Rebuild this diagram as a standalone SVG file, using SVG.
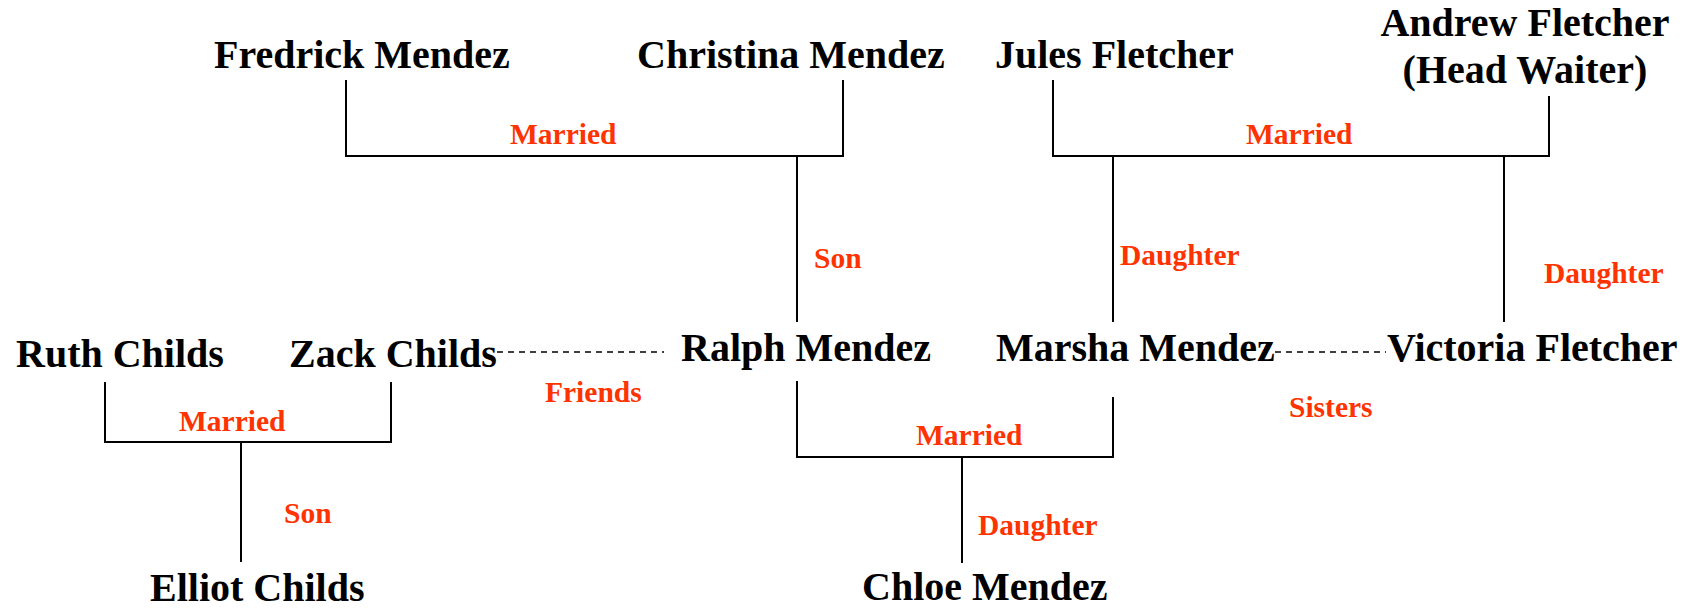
<svg xmlns="http://www.w3.org/2000/svg" width="1700" height="608" viewBox="0 0 1700 608">
<style>
.n{font-family:"Liberation Serif","Times New Roman",serif;font-weight:bold;font-size:40px;fill:#000}
.l{font-family:"Liberation Serif","Times New Roman",serif;font-weight:bold;font-size:29.5px;fill:#ff3300}
.c{fill:none;stroke:#000;stroke-width:2}
.d{fill:none;stroke:#000;stroke-width:1.5;stroke-dasharray:6 5}
</style>
<rect width="1700" height="608" fill="#fff"/>
<g id="connectors">
<polyline class="c" points="346,80 346,156 843,156 843,80"/>
<line class="c" x1="797" y1="156" x2="797" y2="322"/>
<polyline class="c" points="1053,80 1053,156 1549,156 1549,96"/>
<line class="c" x1="1113" y1="156" x2="1113" y2="322"/>
<line class="c" x1="1504" y1="156" x2="1504" y2="322"/>
<polyline class="c" points="105,382 105,442 391,442 391,382"/>
<line class="c" x1="241" y1="442" x2="241" y2="562"/>
<polyline class="c" points="797,381 797,457 1113,457 1113,397"/>
<line class="c" x1="962" y1="457" x2="962" y2="563"/>
<line class="d" x1="497" y1="352" x2="664" y2="352"/>
<line class="d" x1="1275" y1="352" x2="1386" y2="352"/>
<text class="l" x="510" y="144">Married</text>
<text class="l" x="1246" y="144">Married</text>
<text class="l" x="814" y="268">Son</text>
<text class="l" x="1120" y="265">Daughter</text>
<text class="l" x="1544" y="283">Daughter</text>
<text class="l" x="545" y="402">Friends</text>
<text class="l" x="1289" y="417">Sisters</text>
<text class="l" x="179" y="431">Married</text>
<text class="l" x="916" y="445">Married</text>
<text class="l" x="284" y="523">Son</text>
<text class="l" x="978" y="535">Daughter</text>
</g>
<g id="fredrick"><text class="n" x="214" y="68">Fredrick Mendez</text></g>
<g id="christina"><text class="n" x="637" y="68">Christina Mendez</text></g>
<g id="jules"><text class="n" x="995" y="68">Jules Fletcher</text></g>
<g id="andrew"><text class="n" text-anchor="middle" x="1525" y="36">Andrew Fletcher</text><text class="n" text-anchor="middle" x="1525" y="83">(Head Waiter)</text></g>
<g id="ruth"><text class="n" x="16" y="367">Ruth Childs</text></g>
<g id="zack"><text class="n" x="289" y="367">Zack Childs</text></g>
<g id="ralph"><text class="n" x="681" y="361">Ralph Mendez</text></g>
<g id="marsha"><text class="n" x="996" y="361">Marsha Mendez</text></g>
<g id="victoria"><text class="n" x="1387" y="361">Victoria Fletcher</text></g>
<g id="elliot"><text class="n" x="150" y="601">Elliot Childs</text></g>
<g id="chloe"><text class="n" x="862" y="600">Chloe Mendez</text></g>
</svg>
